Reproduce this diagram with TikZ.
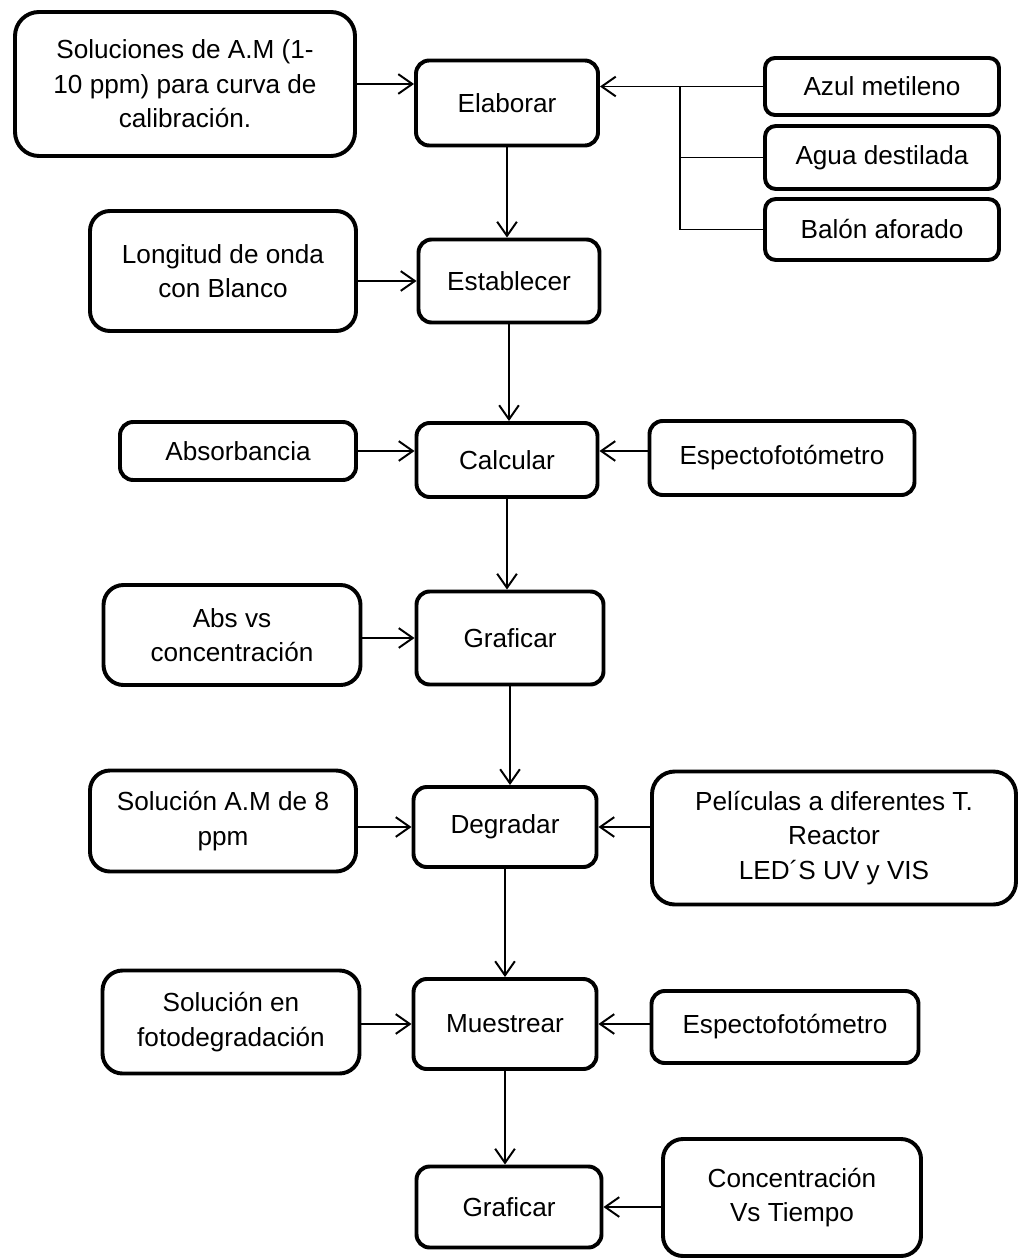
\documentclass[tikz,border=0pt]{standalone}
\usepackage{fontspec}
\setmainfont{Liberation Sans}
\usetikzlibrary{arrows.meta}
\newcommand{\tf}{\fontsize{18.6pt}{24.5pt}\selectfont}

\begin{document}
\begin{tikzpicture}[
    box/.style={draw, line width=2.8pt, rounded corners=0.33cm, align=center, font=\tf, inner sep=0pt},
    tall/.style={box, rounded corners=0.5cm},
    flow/.style={->, line width=1.4pt},
    >={Straight Barb[length=10pt,width=14pt]}
  ]
    \useasboundingbox (0,0) rectangle (25.525,-31.5);

    % pasos (columna central)
    \node [box, minimum width=4.55cm, minimum height=2.125cm] (elab) at (12.675,-2.575) {Elaborar};
    \node [box, minimum width=4.525cm, minimum height=2.075cm] (estab) at (12.725,-7.025) {Establecer};
    \node [box, minimum width=4.525cm, minimum height=1.85cm] (calc) at (12.675,-11.5) {Calcular};
    \node [box, minimum width=4.675cm, minimum height=2.325cm] (graf1) at (12.75,-15.95) {Graficar};
    \node [box, minimum width=4.575cm, minimum height=2cm] (degr) at (12.625,-20.675) {Degradar};
    \node [box, minimum width=4.575cm, minimum height=2.25cm] (muest) at (12.625,-25.6) {Muestrear};
    \node [box, minimum width=4.625cm, minimum height=2.025cm] (graf2) at (12.725,-30.175) {Graficar};

    % entradas a la izquierda
    \node [tall, rounded corners=0.6cm, minimum width=8.5cm, minimum height=3.6cm] (sol) at (4.625,-2.1)
        {Soluciones de A.M (1-\\10 ppm) para curva de\\calibración.};
    \node [tall, minimum width=6.65cm, minimum height=3cm] (long) at (5.575,-6.775) {Longitud de onda\\con Blanco};
    \node [box, minimum width=5.9cm, minimum height=1.45cm] (absor) at (5.95,-11.275) {Absorbancia};
    \node [tall, minimum width=6.425cm, minimum height=2.5cm] (absvs) at (5.8,-15.875) {Abs vs\\concentración};
    \node [tall, minimum width=6.65cm, minimum height=2.525cm] (sol8) at (5.575,-20.525) {Solución A.M de 8\\ppm};
    \node [tall, minimum width=6.425cm, minimum height=2.575cm] (solfoto) at (5.775,-25.55) {Solución en\\fotodegradación};

    % entradas a la derecha
    \node [box, rounded corners=0.25cm, minimum width=5.85cm, minimum height=1.425cm] (azul) at (22.05,-2.1625) {Azul metileno};
    \node [box, rounded corners=0.27cm, minimum width=5.85cm, minimum height=1.575cm] (agua) at (22.05,-3.9375) {Agua destilada};
    \node [box, rounded corners=0.27cm, minimum width=5.85cm, minimum height=1.525cm] (balon) at (22.05,-5.7375) {Balón aforado};
    \node [box, minimum width=6.625cm, minimum height=1.85cm] (esp1) at (19.55,-11.45) {Espectofotómetro};
    \node [tall, rounded corners=0.57cm, minimum width=9.1cm, minimum height=3.325cm] (pelic) at (20.85,-20.95)
        {Películas a diferentes T.\\Reactor\\LED´S UV y VIS};
    \node [box, minimum width=6.675cm, minimum height=1.8cm] (esp2) at (19.625,-25.675) {Espectofotómetro};
    \node [tall, minimum width=6.45cm, minimum height=2.925cm] (conc) at (19.8,-29.9375) {Concentración\\Vs Tiempo};

    % flechas verticales
    \draw [flow] (elab) -- (elab |- estab.north);
    \draw [flow] (estab) -- (estab |- calc.north);
    \draw [flow] (calc) -- (calc |- graf1.north);
    \draw [flow] (graf1) -- (graf1 |- degr.north);
    \draw [flow] (degr) -- (degr |- muest.north);
    \draw [flow] (muest) -- (muest |- graf2.north);

    % flechas horizontales
    \draw [flow] (sol) -- (sol -| elab.west);
    \draw [flow] (long.east |- estab) -- (estab.west);
    \draw [flow] (absor) -- (absor -| calc.west);
    \draw [flow] (absvs.east |- graf1) -- (graf1.west);
    \draw [flow] (sol8.east |- degr) -- (degr.west);
    \draw [flow] (solfoto.east |- muest) -- (muest.west);

    \draw [flow] (esp1.west |- absor) -- (calc.east |- absor);
    \draw [flow] (pelic.west |- degr) -- (degr.east);
    \draw [flow] (esp2.west |- muest) -- (muest.east);
    \draw [flow] (conc.west |- graf2) -- (graf2.east);

    % materiales
    \coordinate (junc) at (17,-2.1625);
    \draw [flow] (azul) -- (azul -| elab.east);
    \draw [line width=1.4pt] (agua) -- (agua -| junc);
    \draw [line width=1.4pt] (balon) -| (junc);
\end{tikzpicture}
\end{document}
